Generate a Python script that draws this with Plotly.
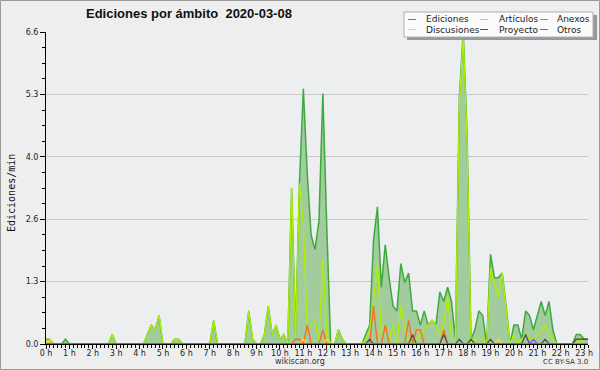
import plotly.graph_objects as go

# ---------------- data (edits per minute, 10-minute steps from 00:00) ----------------
ediciones = [
    0.1, 0.1, 0, 0, 0, 0.1, 0, 0, 0, 0, 0, 0,
    0, 0, 0, 0, 0, 0.2, 0, 0, 0, 0, 0, 0,
    0, 0, 0.2, 0.4, 0.3, 0.6, 0, 0, 0, 0.1, 0.1, 0,
    0, 0, 0, 0, 0, 0, 0, 0.5, 0, 0, 0, 0,
    0, 0, 0, 0, 0.7, 0.1, 0, 0, 0.2, 0.8, 0.2, 0.4,
    0.1, 0.2, 0, 3.3, 0.2, 3.4, 5.4, 3.6, 2.3, 2.0, 2.6, 5.3,
    2.5, 0, 0, 0.3, 0.1, 0, 0, 0, 0, 0, 0.2, 0.4,
    2.2, 2.9, 1.2, 2.1, 1.4, 0.8, 0.7, 1.7, 1.3, 1.5, 0.7, 0.7,
    0.4, 0.7, 0.4, 0.5, 0.4, 1.1, 0.9, 1.2, 0.9, 0.1, 5.2, 6.6,
    4.4, 0.1, 0.3, 0.7, 0.6, 0, 1.9, 1.4, 1.4, 1.5, 0.8, 0,
    0.4, 0.4, 0.1, 0.7, 0.6, 0.3, 0.6, 0.9, 0.6, 0.9, 0.3, 0,
    0, 0, 0, 0, 0.2, 0.2, 0.1, 0.1,
]
articulos = [
    0.1, 0, 0, 0, 0, 0, 0, 0, 0, 0, 0, 0,
    0, 0, 0, 0, 0, 0.2, 0, 0, 0, 0, 0, 0,
    0, 0, 0.2, 0.4, 0.3, 0.6, 0, 0, 0, 0.1, 0.1, 0,
    0, 0, 0, 0, 0, 0, 0, 0.5, 0, 0, 0, 0,
    0, 0, 0, 0, 0.7, 0.1, 0, 0, 0.2, 0.8, 0.2, 0.4,
    0.1, 0.2, 0, 3.3, 0.1, 3.4, 2.5, 0.3, 0.4, 0.5, 0.1, 1.8,
    0.2, 0, 0, 0.3, 0.1, 0, 0, 0, 0, 0, 0.1, 0.3,
    0.9, 1.7, 0.2, 0.4, 0.1, 0.4, 0, 0.8, 0.3, 0.1, 0, 0.1,
    0.2, 0.3, 0.4, 0.5, 0.4, 0.2, 0.4, 1.0, 0.1, 0.1, 5.1, 6.5,
    4.3, 0, 0.1, 0.1, 0.1, 0, 1.6, 1.3, 1.0, 1.5, 0.7, 0,
    0.2, 0, 0.1, 0.2, 0.1, 0.1, 0.2, 0.3, 0.4, 0.2, 0.1, 0,
    0, 0, 0, 0, 0, 0.1, 0, 0,
]
anexos = [
    0, 0, 0, 0, 0, 0, 0, 0, 0, 0, 0, 0,
    0, 0, 0, 0, 0, 0, 0, 0, 0, 0, 0, 0,
    0, 0, 0, 0, 0, 0, 0, 0, 0, 0, 0, 0,
    0, 0, 0, 0, 0, 0, 0, 0, 0, 0, 0, 0,
    0, 0, 0, 0, 0, 0, 0, 0, 0, 0, 0, 0,
    0, 0, 0, 0, 0.1, 0.1, 0, 0.4, 0, 0, 0, 0.3,
    0, 0, 0, 0, 0, 0, 0, 0, 0, 0, 0, 0,
    0.8, 0, 0, 0.4, 0, 0, 0, 0, 0, 0.5, 0, 0.3,
    0.3, 0, 0, 0, 0, 0, 0.3, 0, 0, 0, 0, 0,
    0, 0, 0, 0, 0, 0, 0, 0, 0, 0, 0, 0,
    0, 0, 0, 0, 0, 0, 0, 0, 0, 0, 0, 0,
    0, 0, 0, 0, 0, 0, 0, 0,
]
discusiones = [
    0, 0.1, 0, 0, 0, 0, 0, 0, 0, 0, 0, 0,
    0, 0, 0, 0, 0, 0, 0, 0, 0, 0, 0, 0,
    0, 0, 0, 0, 0, 0, 0, 0, 0, 0, 0, 0,
    0, 0, 0, 0, 0, 0, 0, 0, 0, 0, 0, 0,
    0, 0, 0, 0, 0, 0, 0, 0, 0, 0, 0, 0,
    0, 0, 0, 0, 0, 0, 0.1, 0, 0, 0, 0, 0,
    0.1, 0, 0, 0, 0, 0, 0, 0, 0, 0, 0, 0,
    0, 0, 0, 0, 0, 0, 0, 0, 0, 0, 0, 0,
    0, 0, 0, 0, 0, 0, 0, 0, 0, 0, 0, 0,
    0, 0, 0, 0, 0, 0, 0, 0, 0.1, 0, 0, 0,
    0, 0, 0, 0, 0, 0, 0, 0, 0, 0, 0, 0,
    0, 0, 0, 0, 0, 0, 0, 0,
]
proyecto = [
    0, 0, 0, 0, 0, 0, 0, 0, 0, 0, 0, 0,
    0, 0, 0, 0, 0, 0, 0, 0, 0, 0, 0, 0,
    0, 0, 0, 0, 0, 0, 0, 0, 0, 0, 0, 0,
    0, 0, 0, 0, 0, 0, 0, 0, 0, 0, 0, 0,
    0, 0, 0, 0, 0, 0, 0, 0, 0, 0, 0, 0,
    0, 0, 0, 0, 0, 0, 0, 0, 0, 0, 0, 0,
    0, 0, 0, 0, 0, 0, 0, 0, 0, 0, 0, 0.1,
    0, 0, 0, 0, 0, 0, 0, 0, 0, 0, 0.2, 0,
    0, 0, 0, 0, 0, 0, 0.2, 0, 0, 0, 0.1, 0,
    0, 0.1, 0, 0, 0, 0, 0.1, 0, 0, 0, 0, 0,
    0, 0, 0, 0.2, 0, 0, 0, 0, 0.1, 0, 0, 0,
    0, 0, 0, 0, 0.1, 0.1, 0.1, 0.1,
]
otros = [
    0, 0, 0, 0, 0, 0, 0, 0, 0, 0, 0, 0,
    0, 0, 0, 0, 0, 0, 0, 0, 0, 0, 0, 0,
    0, 0, 0, 0, 0, 0, 0, 0, 0, 0, 0, 0,
    0, 0, 0, 0, 0, 0, 0, 0, 0, 0, 0, 0,
    0, 0, 0, 0, 0, 0, 0, 0, 0, 0, 0, 0,
    0, 0, 0, 0, 0, 0, 0, 0, 0, 0, 0, 0,
    0, 0, 0, 0, 0, 0, 0, 0, 0, 0, 0, 0,
    0, 0, 0, 0, 0, 0, 0, 0, 0, 0, 0, 0,
    0, 0, 0, 0, 0, 0, 0, 0, 0, 0, 0, 0,
    0, 0, 0, 0, 0, 0, 0, 0, 0, 0, 0, 0,
    0, 0, 0, 0, 0, 0.1, 0, 0, 0, 0, 0, 0,
    0, 0, 0, 0, 0, 0, 0, 0,
]

hour_labels = ["0 h", "1 h", "2 h", "3 h", "4 h", "5 h", "6 h", "7 h", "8 h", "9 h",
               "10 h", "11 h", "12 h", "13 h", "14 h", "15 h", "16 h", "17 h", "18 h",
               "19 h", "20 h", "21 h", "22 h", "23 h"]
hour_vals = list(range(len(hour_labels)))
y_tick_vals = [0, 1.32, 2.64, 3.96, 5.28, 6.6]
y_tick_text = ["0.0", "1.3", "2.6", "4.0", "5.3", "6.6"]

series_names = ["Ediciones", "Artículos", "Anexos", "Discusiones", "Proyecto", "Otros"]
series_colors = ["#3eaa3e", "#aef000", "#ff6a1a", "#ffd23c", "#505050", "#9a44ff"]

# time axis (hours), 10-minute steps
x = [i / 6 for i in range(len(ediciones))]

W, H = 600, 370
L, R, T, B = 46, 12, 32, 26
PW, PH = W - L - R, H - T - B


def fx(px):
    return (px - L) / PW


def fy(py):
    return (H - B - py) / PH


fig = go.Figure()
fig.add_trace(go.Scatter(x=x, y=ediciones, mode="lines", fill="tozeroy",
                         fillcolor="#a2cc9e", line=dict(color=series_colors[0], width=1.5),
                         name=series_names[0], showlegend=False))
for name, col, vals in [(series_names[1], series_colors[1], articulos),
                        (series_names[2], series_colors[2], anexos),
                        (series_names[3], series_colors[3], discusiones),
                        (series_names[4], series_colors[4], proyecto),
                        (series_names[5], series_colors[5], otros)]:
    fig.add_trace(go.Scatter(x=x, y=vals, mode="lines", line=dict(color=col, width=1.3),
                             name=name, showlegend=False))

shapes = []
annotations = []
# outer frame
shapes.append(dict(type="rect", xref="paper", yref="paper", x0=fx(0.5), x1=fx(599.5),
                   y0=fy(369.5), y1=fy(0.5), line=dict(color="#9a9a9a", width=1), layer="below"))
# legend box with shadow
shapes.append(dict(type="rect", xref="paper", yref="paper", x0=fx(407), x1=fx(597),
                   y0=fy(40), y1=fy(15), fillcolor="#999999", line=dict(width=0)))
shapes.append(dict(type="rect", xref="paper", yref="paper", x0=fx(404), x1=fx(593),
                   y0=fy(37), y1=fy(12), fillcolor="#fbfbfb", line=dict(color="#b0b0b0", width=1)))
leg_cols = [(408, 424), (480, 497), (540, 555)]
leg_rows = [19.5, 29.5]
for k, (name, col) in enumerate(zip(series_names, series_colors)):
    r, c = divmod(k, 3)
    lx, tx = leg_cols[c]
    yy = leg_rows[r]
    shapes.append(dict(type="line", xref="paper", yref="paper", x0=fx(lx), x1=fx(lx + 8),
                       y0=fy(yy), y1=fy(yy), line=dict(color=col, width=1)))
    annotations.append(dict(xref="paper", yref="paper", x=fx(tx), y=fy(yy), text=name,
                            showarrow=False, xanchor="left", yanchor="middle",
                            font=dict(family="DejaVu Sans", size=9, color="#222")))

annotations.append(dict(xref="paper", yref="paper", x=fx(300), y=fy(361.5), text="wikiscan.org",
                        showarrow=False, xanchor="center", yanchor="middle",
                        font=dict(family="DejaVu Sans", size=8, color="#333")))
annotations.append(dict(xref="paper", yref="paper", x=fx(590), y=fy(362), text="CC BY-SA 3.0",
                        showarrow=False, xanchor="right", yanchor="middle",
                        font=dict(family="DejaVu Sans", size=7, color="#333")))
annotations.append(dict(xref="paper", yref="paper", x=fx(188.5), y=fy(14),
                        text="<b>Ediciones por ámbito\u00a0\u00a02020-03-08</b>",
                        showarrow=False, xanchor="center", yanchor="middle",
                        font=dict(family="Liberation Sans", size=13, color="#111")))
annotations.append(dict(xref="paper", yref="paper", x=fx(12), y=fy(193),
                        text="Ediciones/min", textangle=-90,
                        showarrow=False, xanchor="center", yanchor="middle",
                        font=dict(family="DejaVu Sans Mono", size=10, color="#111")))

fig.update_layout(
    width=W, height=H,
    margin=dict(l=L, r=R, t=T, b=B, pad=0, autoexpand=False),
    paper_bgcolor="#eeeeee",
    plot_bgcolor="#eceef0",
    shapes=shapes,
    annotations=annotations,
    showlegend=False,
    xaxis=dict(range=[0, x[-1]], tickvals=hour_vals, ticktext=hour_labels,
               automargin=False, ticklabelstandoff=-3,
               ticks="outside", ticklen=4, tickcolor="#000", tickwidth=1,
               showline=True, linecolor="#000", linewidth=1, showgrid=False, zeroline=False,
               tickfont=dict(family="DejaVu Sans", size=8, color="#222"),
               minor=dict(tickmode="linear", tick0=0, dtick=1 / 6, ticks="outside",
                          ticklen=3, tickcolor="#000", showgrid=False)),
    yaxis=dict(range=[0, 6.6], tickvals=y_tick_vals, ticktext=y_tick_text,
               automargin=False,
               ticks="outside", ticklen=5, tickcolor="#000", tickwidth=1,
               showline=True, linecolor="#000", linewidth=1,
               showgrid=True, gridcolor="#c8c8c8", gridwidth=1, zeroline=False,
               tickfont=dict(family="DejaVu Sans", size=8, color="#222"),
               minor=dict(tickmode="linear", tick0=0, dtick=0.33, ticks="outside",
                          ticklen=3, tickcolor="#000", showgrid=False)),
)

fig.write_html("out.html", config={"displayModeBar": False},
               post_script="document.body.style.margin='0';document.body.style.padding='0';")
